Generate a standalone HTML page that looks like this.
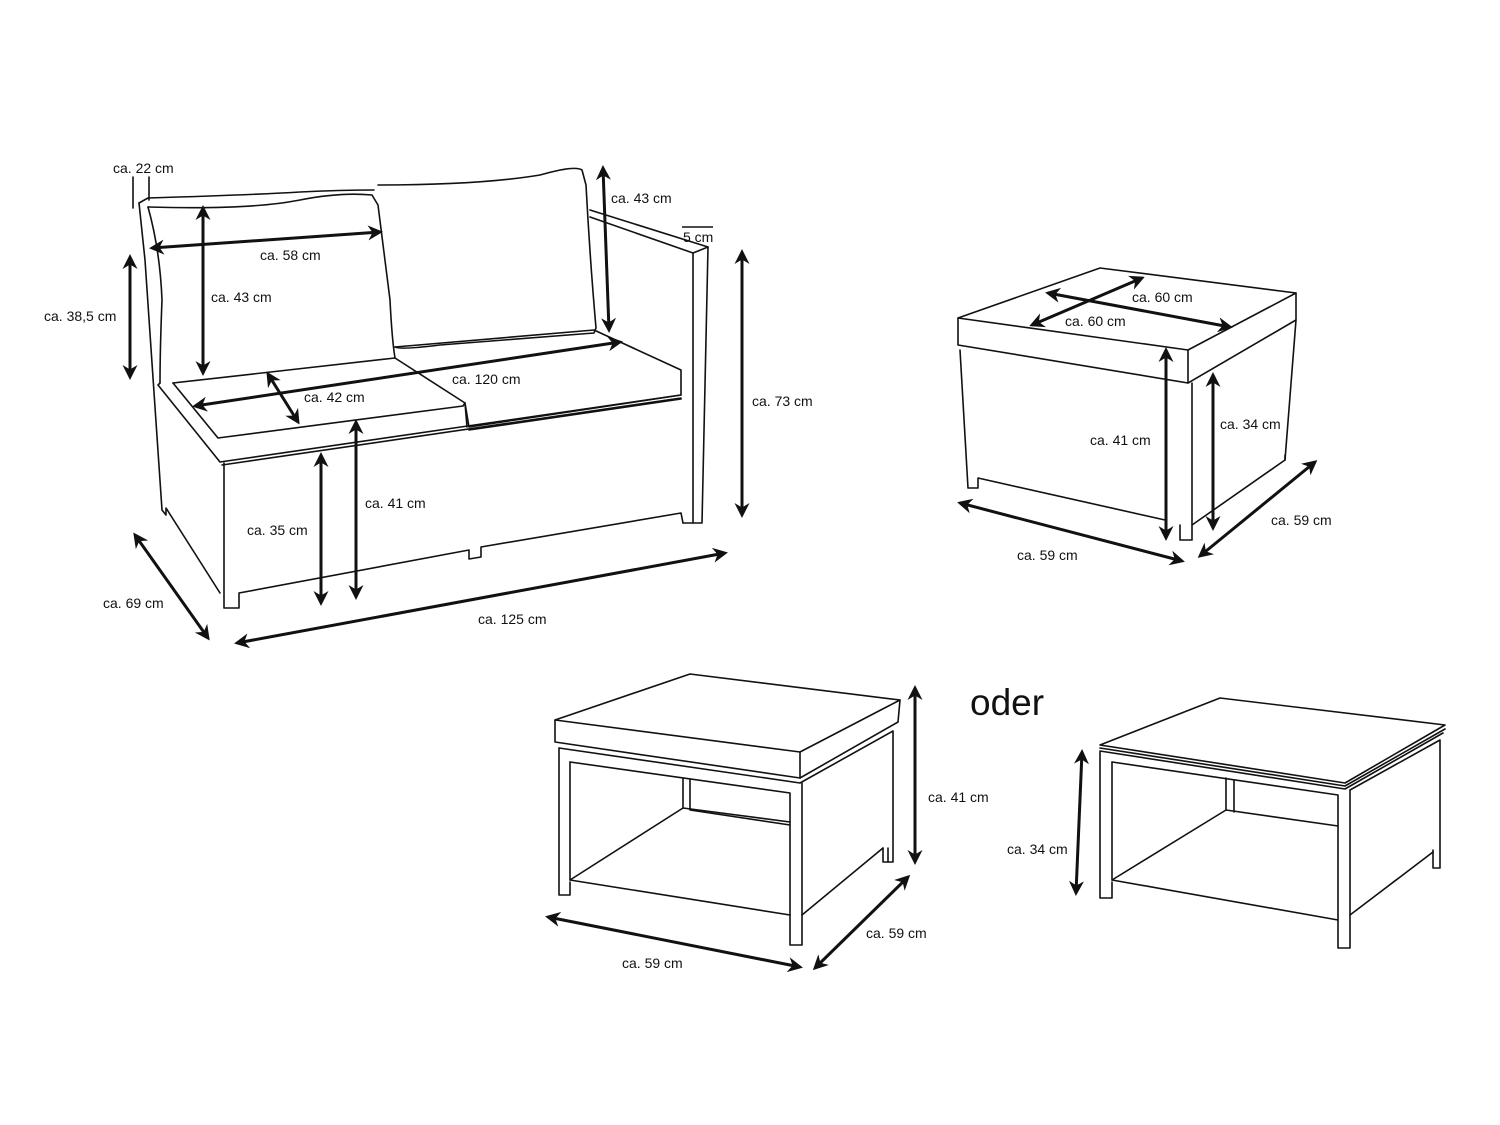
<!DOCTYPE html>
<html><head><meta charset="utf-8"><style>
html,body{margin:0;padding:0;background:#fff}
svg{display:block}
text{font-family:"Liberation Sans Narrow","Liberation Sans",sans-serif;font-size:14px;fill:#111}
.l{fill:none;stroke:#111;stroke-width:1.6;stroke-linejoin:round;stroke-linecap:round}
.a{fill:none;stroke:#111;stroke-width:3;marker-start:url(#m);marker-end:url(#m)}
</style></head><body>
<svg width="1500" height="1125" viewBox="0 0 1500 1125">
<defs><marker id="m" viewBox="0 0 10 10" refX="8" refY="5" markerWidth="5" markerHeight="5" orient="auto-start-reverse"><path d="M0,0 L10,5 L0,10 L3,5 Z" fill="#111"/></marker></defs>

<!-- SOFA -->
<g class="l">
<line x1="133" y1="177" x2="133" y2="208"/><line x1="149" y1="177" x2="149" y2="200"/>
<path d="M139,203 L148,198 Q250,195 300,192 Q340,190 374,190"/>
<path d="M139,203 L145,260 L162,510 L166,515 L166,508 L220,593"/>
<path d="M148,207 Q160,250 162,300 Q160,350 160,383"/>
<path d="M148,207 Q250,210 300,200 Q340,192 372,195 L378,205 Q385,260 390,300 Q392,340 395,358"/>
<path d="M378,185 Q480,185 540,175 Q575,165 582,170 L586,185 Q590,260 596,328 L594,333 Q500,340 440,345 Q400,350 395,347"/>
<path d="M590,210 L708,247"/><path d="M590,217 L693,253"/>
<path d="M693,253 L708,247 L702,523 L693,523 L693,253"/>
<path d="M683,523 L693,523"/>
<path d="M160,383 L158,385 L220,462 L681,395"/>
<path d="M222,465 L681,398"/>
<path d="M173,383 L218,438 L463,406 L465,403"/>
<path d="M173,383 L395,358 L465,403 L467,427"/>
<path d="M395,347 L594,330 L681,370 L681,395 L469,427 L465,403"/>
<path d="M469,430 L681,399"/>
<path d="M224,463 L224,608 L239,608 L239,593 L469,550 L469,559 L481,557 L481,547 L681,513 L683,523"/>
</g>
<g class="a">
<line x1="152" y1="248" x2="380" y2="232"/>
<line x1="203" y1="208" x2="203" y2="373"/>
<line x1="603" y1="168" x2="609" y2="330"/>
<line x1="130" y1="257" x2="130" y2="377"/>
<line x1="195" y1="406" x2="620" y2="342"/>
<line x1="268" y1="374" x2="298" y2="422"/>
<line x1="356" y1="422" x2="356" y2="597"/>
<line x1="321" y1="455" x2="321" y2="603"/>
<line x1="742" y1="252" x2="742" y2="515"/>
<line x1="135" y1="535" x2="208" y2="638"/>
<line x1="237" y1="643" x2="725" y2="553"/>
</g>
<line x1="682" y1="227" x2="713" y2="227" stroke="#111" stroke-width="1.5"/>
<text x="113" y="173">ca. 22 cm</text>
<text x="611" y="203">ca. 43 cm</text>
<text x="683" y="242">5 cm</text>
<text x="260" y="260">ca. 58 cm</text>
<text x="211" y="302">ca. 43 cm</text>
<text x="44" y="321">ca. 38,5 cm</text>
<text x="452" y="384">ca. 120 cm</text>
<text x="304" y="402">ca. 42 cm</text>
<text x="752" y="406">ca. 73 cm</text>
<text x="365" y="508">ca. 41 cm</text>
<text x="247" y="535">ca. 35 cm</text>
<text x="103" y="608">ca. 69 cm</text>
<text x="478" y="624">ca. 125 cm</text>

<!-- OTTOMAN -->
<g class="l">
<path d="M958,318 L1100,268 L1296,293 L1188,350 Z"/>
<path d="M958,318 L958,345 L1188,383 L1296,320 L1296,293"/>
<line x1="1188" y1="350" x2="1188" y2="383"/>
<path d="M960,350 L968,488 L978,488 L978,478 L1165,520"/>
<path d="M1192,383 L1192,525"/>
<path d="M1180,525 L1180,540 L1192,540 L1192,525 L1285,460 L1285,455"/>
<path d="M1296,320 L1285,460"/>
</g>
<g class="a">
<line x1="1048" y1="293" x2="1230" y2="327"/>
<line x1="1032" y1="325" x2="1142" y2="278"/>
<line x1="1166" y1="350" x2="1166" y2="538"/>
<line x1="1213" y1="375" x2="1213" y2="528"/>
<line x1="960" y1="503" x2="1182" y2="561"/>
<line x1="1200" y1="556" x2="1315" y2="462"/>
</g>
<text x="1132" y="302">ca. 60 cm</text>
<text x="1065" y="326">ca. 60 cm</text>
<text x="1090" y="445">ca. 41 cm</text>
<text x="1220" y="429">ca. 34 cm</text>
<text x="1017" y="560">ca. 59 cm</text>
<text x="1271" y="525">ca. 59 cm</text>

<!-- TABLE 1 -->
<g class="l">
<path d="M555,720 L690,674 L900,700 L800,752 Z"/>
<path d="M555,720 L555,742 L800,778 L898,722 L900,700"/>
<line x1="800" y1="752" x2="800" y2="778"/>
<path d="M559,748 L559,895 L570,895 L570,882"/>
<path d="M559,748 L800,783 L893,731 L893,862 L888,862"/>
<path d="M570,762 L790,793 L790,945 L802,945 L802,783"/>
<path d="M570,762 L570,880 L790,915"/>
<path d="M802,915 L883,848"/>
<path d="M883,848 L883,862 L888,862 L888,848"/>
<path d="M570,880 L683,808 L790,822"/>
<path d="M683,778 L683,808 M690,780 L690,810 L790,825"/>
</g>
<g class="a">
<line x1="915" y1="688" x2="915" y2="862"/>
<line x1="548" y1="917" x2="800" y2="967"/>
<line x1="815" y1="968" x2="908" y2="877"/>
</g>
<text x="928" y="802">ca. 41 cm</text>
<text x="622" y="968">ca. 59 cm</text>
<text x="866" y="938">ca. 59 cm</text>
<text x="970" y="715" style="font-family:'Liberation Sans',sans-serif;font-size:37px">oder</text>

<!-- TABLE 2 -->
<g class="l">
<path d="M1100,745 L1220,698 L1445,725 L1345,783 Z"/>
<path d="M1100,748 L1345,786 L1445,729 M1100,751 L1345,789 L1443,733"/>
<path d="M1100,752 L1100,898 L1112,898 L1112,882"/>
<path d="M1112,762 L1338,795 L1338,948 L1350,948 L1350,790 L1440,740 L1440,868 L1433,868 L1433,850"/>
<path d="M1112,762 L1112,880 L1338,920"/>
<path d="M1350,915 L1433,852"/>
<path d="M1112,880 L1226,810 L1338,826"/>
<path d="M1226,778 L1226,810 M1234,780 L1234,812"/>
</g>
<line class="a" x1="1082" y1="752" x2="1076" y2="893"/>
<text x="1007" y="854">ca. 34 cm</text>
</svg>
</body></html>
